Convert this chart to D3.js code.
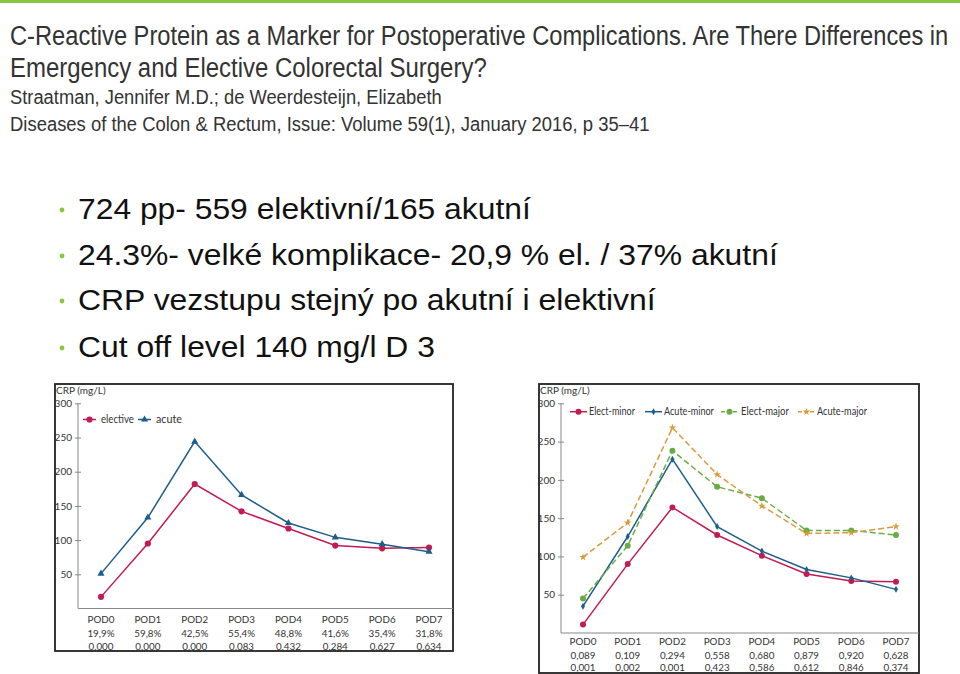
<!DOCTYPE html>
<html>
<head>
<meta charset="utf-8">
<script src="https://cdn.jsdelivr.net/npm/d3@7"></script>
<style>
  html, body { margin: 0; padding: 0; background: #fff; }
  svg { display: block; }
</style>
</head>
<body>
<svg id="chart" width="960" height="674"></svg>
<script>
// ---------- DATA ----------
const headerLines = [
  "C-Reactive Protein as a Marker for Postoperative Complications. Are There Differences in",
  "Emergency and Elective Colorectal Surgery?",
  "Straatman, Jennifer M.D.; de Weerdesteijn, Elizabeth",
  "Diseases of the Colon & Rectum, Issue: Volume 59(1), January 2016, p 35\u201341"
];
const bullets = [
  "724 pp- 559 elektivní/165 akutní",
  "24.3%- velké komplikace- 20,9 % el. / 37% akutní",
  "CRP vezstupu stejný po akutní i elektivní",
  "Cut off level 140 mg/l D 3"
];
const pods = ["POD0", "POD1", "POD2", "POD3", "POD4", "POD5", "POD6", "POD7"];
const yTicks = [50, 100, 150, 200, 250, 300];

// left chart
const leftElective = [17, 95, 182, 142, 117, 92, 88, 89];
const leftAcute = [51, 133, 244, 166, 125, 104, 94, 83];
const leftPct = ["19,9%", "59,8%", "42,5%", "55,4%", "48,8%", "41,6%", "35,4%", "31,8%"];
const leftP = ["0,000", "0,000", "0,000", "0,083", "0,432", "0,284", "0,627", "0,634"];

// right chart
const electMinor = [11, 90, 164, 128, 101, 77, 68, 67];
const acuteMinor = [35, 126, 227, 139, 107, 83, 72, 57];
const electMajor = [45, 114, 238, 191, 176, 134, 134, 128];
const acuteMajor = [99, 144, 268, 207, 166, 130, 131, 139];
const rightP1 = ["0,089", "0,109", "0,294", "0,558", "0,680", "0,879", "0,920", "0,628"];
const rightP2 = ["0,001", "0,002", "0,001", "0,423", "0,586", "0,612", "0,846", "0,374"];

// ---------- STYLE ----------
const C_RED = "#c21a52", C_BLUE = "#1d5d8c", C_GREEN = "#6aab45", C_ORANGE = "#d99a3c";
const GREEN_BAR = "#8cc63f";
const chartFont = "Lato, 'Liberation Sans', sans-serif";

const svg = d3.select("#chart");

// place a text at (x,y) and scale it horizontally to a given width
function fitText(parent, x, y, width, str, attrs) {
  const t = parent.append("text").attr("x", 0).attr("y", 0).text(str);
  Object.entries(attrs).forEach(([k, v]) => t.attr(k, v));
  const w = t.node().getComputedTextLength();
  const k = w > 0 ? width / w : 1;
  t.attr("transform", `translate(${x},${y}) scale(${k},1)`);
  return t;
}

// top green rule
svg.append("rect").attr("x", 0).attr("y", 0).attr("width", 960).attr("height", 3).attr("fill", GREEN_BAR);

// header
const headerSpec = [
  {size: 27, y: 45, w: 939},
  {size: 27, y: 77, w: 477},
  {size: 21, y: 104, w: 432},
  {size: 21, y: 131, w: 640}
];
headerLines.forEach((t, i) => {
  fitText(svg, 10, headerSpec[i].y, headerSpec[i].w, t, {
    "font-family": "'Liberation Sans', Arial, sans-serif",
    "font-size": headerSpec[i].size,
    "fill": "#333"
  });
});

// bullets
const bulletY = [219, 265, 310, 357];
const bulletW = [453, 700, 578, 357];
bullets.forEach((t, i) => {
  svg.append("circle").attr("cx", 62).attr("cy", bulletY[i] - 9).attr("r", 2.4).attr("fill", GREEN_BAR);
  fitText(svg, 78, bulletY[i], bulletW[i], t, {
    "font-family": "'Liberation Sans', Arial, sans-serif",
    "font-size": 29.5,
    "fill": "#111"
  });
});

// ---------- generic chart drawing ----------
function drawChart(cfg) {
  const g = svg.append("g");
  // frame
  g.append("rect")
    .attr("x", cfg.frame[0]).attr("y", cfg.frame[1])
    .attr("width", cfg.frame[2] - cfg.frame[0]).attr("height", cfg.frame[3] - cfg.frame[1])
    .attr("fill", "#fff").attr("stroke", "#222").attr("stroke-width", 1.8);

  const x = d3.scalePoint().domain(pods).range(cfg.xRange);
  const y = d3.scaleLinear().domain([0, 300]).range(cfg.yRange);

  // x baseline
  g.append("line")
    .attr("x1", cfg.axisX).attr("x2", cfg.frame[2])
    .attr("y1", y(0)).attr("y2", y(0))
    .attr("stroke", "#888").attr("stroke-width", 1);

  // y axis
  const yAxis = d3.axisLeft(y).tickValues(yTicks).tickSize(3).tickPadding(4);
  const ag = g.append("g").attr("transform", `translate(${cfg.axisX},0)`).call(yAxis);
  ag.select(".domain").attr("d", `M0,${y(300)}V${y(0)}`).attr("stroke", "#888");
  ag.selectAll(".tick line").attr("x1", -3).attr("x2", 3).attr("stroke", "#888");
  ag.selectAll(".tick text")
    .attr("font-family", chartFont).attr("font-size", 10).attr("fill", "#333")
    .attr("x", -6);

  // axis title
  g.append("text")
    .attr("x", cfg.frame[0] + 1).attr("y", 394)
    .attr("font-family", chartFont).attr("font-size", 10).attr("fill", "#333")
    .text("CRP (mg/L)");

  // series
  cfg.series.forEach(s => {
    const line = d3.line().x((d, i) => x(pods[i])).y(d => y(d));
    g.append("path").datum(s.values)
      .attr("d", line).attr("fill", "none")
      .attr("stroke", s.color).attr("stroke-width", 1.5)
      .attr("stroke-dasharray", s.dash || null);
    s.values.forEach((v, i) => {
      g.append("path")
        .attr("transform", `translate(${x(pods[i])},${y(v)})`)
        .attr("d", d3.symbol().type(s.symbol).size(s.size)())
        .attr("fill", s.color);
    });
    // legend
    const lg = g.append("g");
    lg.append("line")
      .attr("x1", s.legend[0]).attr("x2", s.legend[1])
      .attr("y1", cfg.legendY).attr("y2", cfg.legendY)
      .attr("stroke", s.color).attr("stroke-width", 1.5)
      .attr("stroke-dasharray", s.dash ? "4,2" : null);
    lg.append("path")
      .attr("transform", `translate(${(s.legend[0] + s.legend[1]) / 2},${cfg.legendY})`)
      .attr("d", d3.symbol().type(s.symbol).size(s.size)())
      .attr("fill", s.color);
    fitText(lg, s.legend[2], cfg.legendY + 3.6, s.legend[3], s.name, {
      "font-family": chartFont, "font-size": 10.5, "fill": "#333"
    });
  });

  // table rows below
  cfg.rows.forEach((row, r) => {
    row.forEach((t, i) => {
      g.append("text")
        .attr("x", x(pods[i])).attr("y", cfg.rowY[r])
        .attr("text-anchor", "middle")
        .attr("font-family", chartFont).attr("font-size", 9.8).attr("fill", "#333")
        .text(t);
    });
  });
}

drawChart({
  frame: [55, 384, 453, 651],
  axisX: 78,
  xRange: [101, 429],
  yRange: [608.5, 403.3],
  legendY: 419.5,
  series: [
    {name: "elective", values: leftElective, color: C_RED, symbol: d3.symbolCircle, size: 30, legend: [83, 96, 101, 33]},
    {name: "acute", values: leftAcute, color: C_BLUE, symbol: d3.symbolTriangle, size: 22, legend: [138, 151, 156, 26]}
  ],
  rows: [pods, leftPct, leftP],
  rowY: [623, 636.5, 649.5]
});

drawChart({
  frame: [539, 384, 919, 673],
  axisX: 561,
  xRange: [583, 896],
  yRange: [633, 403.3],
  legendY: 411.7,
  series: [
    {name: "Elect-minor", values: electMinor, color: C_RED, symbol: d3.symbolCircle, size: 28, legend: [570, 587, 589, 46]},
    {name: "Acute-minor", values: acuteMinor, color: C_BLUE, symbol: d3.symbolDiamond, size: 14, legend: [645, 662, 664, 50]},
    {name: "Elect-major", values: electMajor, color: C_GREEN, symbol: d3.symbolCircle, size: 28, dash: "6,3", legend: [721, 738, 741, 48]},
    {name: "Acute-major", values: acuteMajor, color: C_ORANGE, symbol: d3.symbolStar, size: 18, dash: "6,3", legend: [798, 815, 817, 50]}
  ],
  rows: [pods, rightP1, rightP2],
  rowY: [645, 658.5, 671.2]
});
</script>
</body>
</html>
